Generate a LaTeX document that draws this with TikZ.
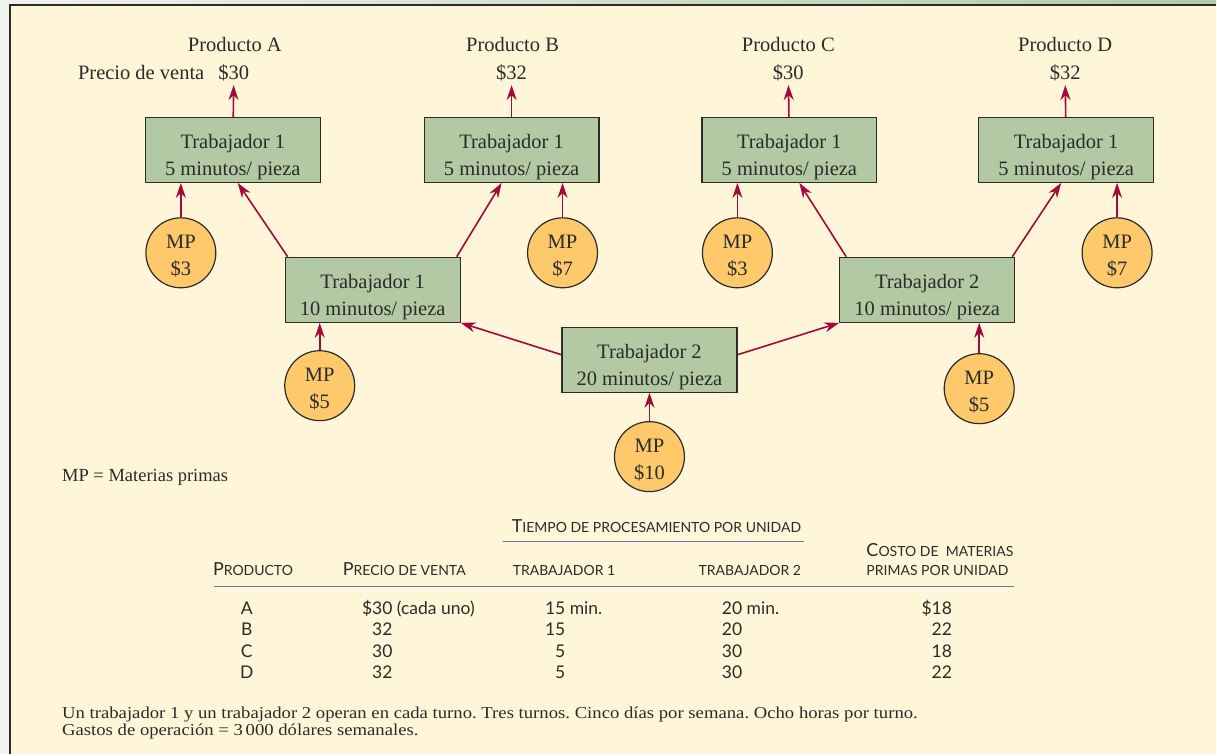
\documentclass[tikz,border=0pt]{standalone}
\usepackage{fontspec}
\setmainfont{Liberation Serif}
\newfontfamily\tabfont{Lato}
\newfontfamily\notefont[FakeStretch=1.12]{Liberation Serif}
\usetikzlibrary{arrows.meta}

\definecolor{cream}{HTML}{FFF5D8}
\definecolor{sage}{HTML}{B3C9A3}
\definecolor{mpfill}{HTML}{FDC96A}
\definecolor{arrowred}{HTML}{A00A3C}
\definecolor{rulecol}{HTML}{5B7FA3}
\definecolor{edgegrey}{HTML}{EFF2EE}
\definecolor{topgreen}{HTML}{B5C9A5}
\definecolor{inkgrey}{HTML}{2B2B2B}

% small caps by hand: first letter big, rest small
\newcommand{\tcap}[2]{{\fontsize{18}{18}\selectfont#1}{\fontsize{14}{14}\selectfont#2}}
% two-line texts, pushed down a little
\newcommand{\wtxt}[2]{\rule{0pt}{28pt}#1\\#2}
\newcommand{\mptxt}[1]{\rule{0pt}{20pt}MP\\\$#1}

\begin{document}
\begin{tikzpicture}[x=1pt, y=-1pt,
    worker/.style={draw=inkgrey, line width=1.2pt, fill=sage, minimum width=175pt, minimum height=65pt,
        inner sep=0pt, align=center, text=inkgrey, font=\fontsize{20.5}{27}\selectfont},
    mp/.style={circle, draw=inkgrey, line width=1.2pt, fill=mpfill, minimum size=70pt, inner sep=0pt,
        align=center, text=inkgrey, font=\fontsize{20.5}{27}\selectfont},
    feed/.style={-{Stealth[length=15pt, width=10pt]}, draw=arrowred, line width=1.6pt},
    tag/.style={text=inkgrey, font=\fontsize{20.5}{24}\selectfont},
    note/.style={text=inkgrey, inner sep=0pt, font=\notefont\fontsize{16.7}{17}\selectfont},
    cell/.style={text=inkgrey, inner sep=0pt, font=\tabfont\fontsize{17.5}{18}\selectfont},
    head/.style={text=inkgrey, inner sep=0pt, font=\tabfont}]
    % frame
    \fill[edgegrey] (0,0) rectangle (1217,755);
    \shade[left color=edgegrey, right color=topgreen] (0,0) rectangle (1217,4);
    \fill[cream] (10,5) rectangle (1217,755);
    \draw[inkgrey, line width=2pt] (10,755) -- (10,5) -- (1217,5);
    \useasboundingbox (0,0) rectangle (1217,755);

    % products and prices
    \node[tag, anchor=base] (pna) at (235,52) {Producto A};
    \node[tag, anchor=base] (pnb) at (513,52) {Producto B};
    \node[tag, anchor=base] (pnc) at (789,52) {Producto C};
    \node[tag, anchor=base] (pnd) at (1066,52) {Producto D};
    \node[tag, anchor=base] (pa) at (234,80) {\$30};
    \node[tag, anchor=base] (pb) at (512,80) {\$32};
    \node[tag, anchor=base] (pc) at (789,80) {\$30};
    \node[tag, anchor=base] (pd) at (1066,80) {\$32};
    \node[tag, anchor=base east] (pv) at (208,80) {Precio de venta};

    % workers
    \node[worker] (a) at (233,150) {\wtxt{Trabajador 1}{5 minutos/ pieza}};
    \node[worker] (b) at (512,150) {\wtxt{Trabajador 1}{5 minutos/ pieza}};
    \node[worker] (c) at (790,150) {\wtxt{Trabajador 1}{5 minutos/ pieza}};
    \node[worker] (d) at (1067,150) {\wtxt{Trabajador 1}{5 minutos/ pieza}};
    \node[worker] (m1) at (373,290) {\wtxt{Trabajador 1}{10 minutos/ pieza}};
    \node[worker] (m2) at (928,290) {\wtxt{Trabajador 2}{10 minutos/ pieza}};
    \node[worker] (w2) at (650,360) {\wtxt{Trabajador 2}{20 minutos/ pieza}};

    % raw materials
    \node[mp] (mpa) at (181,253) {\mptxt{3}};
    \node[mp] (mpb) at (563,253) {\mptxt{7}};
    \node[mp] (mpc) at (738,253) {\mptxt{3}};
    \node[mp] (mpd) at (1118,253) {\mptxt{7}};
    \node[mp] (mpm1) at (320,386) {\mptxt{5}};
    \node[mp] (mpm2) at (980,389) {\mptxt{5}};
    \node[mp] (mpw) at (650,457) {\mptxt{10}};

    % flows
    \draw[feed] (a) -- (pa);
    \draw[feed] (b) -- (pb);
    \draw[feed] (c) -- (pc);
    \draw[feed] (d) -- (pd);
    \draw[feed] (mpa) -- (mpa |- a.south);
    \draw[feed] (mpb) -- (mpb |- b.south);
    \draw[feed] (mpc) -- (mpc |- c.south);
    \draw[feed] (mpd) -- (mpd |- d.south);
    \draw[feed] (mpm1) -- (mpm1 |- m1.south);
    \draw[feed] (mpm2) -- (mpm2 |- m2.south);
    \draw[feed] (mpw) -- (w2);
    \draw[feed] ([xshift=3pt]m1.north west) -- ([xshift=5pt]a.south);
    \draw[feed] ([xshift=-4pt]m1.north east) -- ([xshift=-10pt]b.south);
    \draw[feed] ([xshift=7pt]m2.north west) -- ([xshift=10pt]c.south);
    \draw[feed] ([xshift=-3pt]m2.north east) -- ([xshift=-5pt]d.south);
    \draw[feed] ([yshift=5pt]w2.west) -- (m1.south east);
    \draw[feed] ([yshift=5pt]w2.east) -- (m2.south west);

    \node[tag, anchor=base west, inner sep=0pt, font=\fontsize{18.5}{20}\selectfont] (leg) at (62,482) {MP = Materias primas};

    % table
    \node[head, anchor=base west] (htime) at (512,533) {\tcap{T}{IEMPO DE PROCESAMIENTO POR UNIDAD}};
    \node[head, anchor=base west] (hcost) at (867,557) {\tcap{C}{OSTO DE\ \ MATERIAS}};
    \node[head, anchor=base west] (hprod) at (213,576) {\tcap{P}{RODUCTO}};
    \node[head, anchor=base west] (hprice) at (343,576) {\tcap{P}{RECIO DE VENTA}};
    \node[head, anchor=base west] (hone) at (513,576) {\tcap{}{TRABAJADOR 1}};
    \node[head, anchor=base west] (htwo) at (699,576) {\tcap{}{TRABAJADOR 2}};
    \node[head, anchor=base west] (hprim) at (867,576) {\tcap{}{PRIMAS POR UNIDAD}};
    \coordinate (r1a) at (503,542);
    \coordinate (r1b) at (805,542);
    \coordinate (r2a) at (214,587);
    \coordinate (r2b) at (1015,587);
    \draw[rulecol, line width=1.4pt] (r1a) -- (r1b);
    \draw[rulecol, line width=1.4pt] (r2a) -- (r2b);
    \foreach \prod/\price/\tone/\ttwo/\cost [count=\i] in
        {A/\$30\rlap{ (cada uno)}/15\rlap{ min.}/20\rlap{ min.}/\$18,
         B/32/15/20/22, C/30/5/30/18, D/32/5/30/22} {
        \pgfmathsetmacro\yb{615+21.3*(\i-1)}
        \node[cell, anchor=base] (prod\i) at (247,\yb) {\prod};
        \node[cell, anchor=base east] (price\i) at (393,\yb) {\price};
        \node[cell, anchor=base east] (tone\i) at (566,\yb) {\tone};
        \node[cell, anchor=base east] (ttwo\i) at (743,\yb) {\ttwo};
        \node[cell, anchor=base east] (cost\i) at (953,\yb) {\cost};
    }

    % operating notes
    \node[note, anchor=base west] (ops1) at (62,719) {\frenchspacing Un trabajador 1 y un trabajador 2 operan en cada turno. Tres turnos. Cinco días por semana. Ocho horas por turno.};
    \node[note, anchor=base west] (ops2) at (62,736) {Gastos de operación = 3\,000 dólares semanales.};
\end{tikzpicture}
\end{document}
